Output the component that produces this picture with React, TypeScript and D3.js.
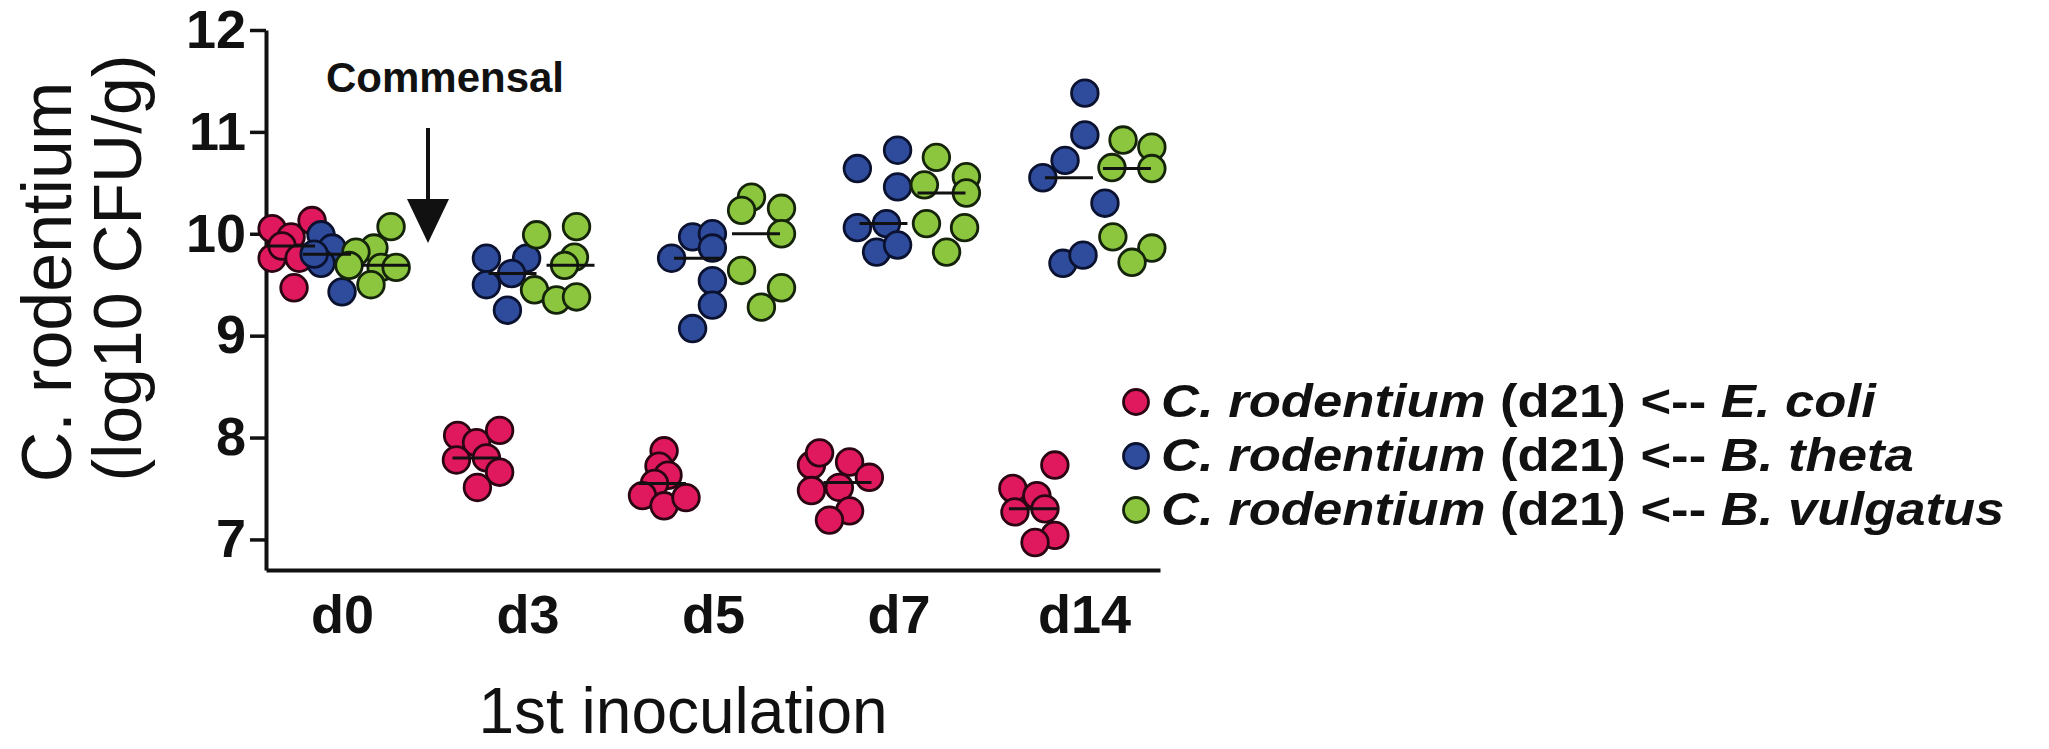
import React, { useEffect, useRef } from "react";
import * as d3 from "d3";

const categories = ["d0", "d3", "d5", "d7", "d14"];
const groups = ["E. coli", "B. theta", "B. vulgatus"];
const yTicks = [7, 8, 9, 10, 11, 12];

// C. rodentium log10 CFU/g per mouse, one row per category (d0..d14)
const ecoliValues = [
  [10.05, 9.97, 10.13, 9.76, 9.88, 9.76, 9.47],
  [8.02, 7.95, 8.07, 7.78, 7.8, 7.66, 7.51],
  [7.87, 7.72, 7.63, 7.55, 7.43, 7.33, 7.41],
  [7.73, 7.85, 7.76, 7.61, 7.48, 7.51, 7.28, 7.19],
  [7.73, 7.5, 7.43, 7.27, 7.3, 7.04, 6.97],
];
const ecoliJitter = [
  [-0.63, 0, 0.7, -0.63, -0.3, 0.27, 0.1],
  [-0.63, 0, 0.77, -0.67, 0.33, 0.77, 0.03],
  [0.07, -0.1, 0.2, -0.25, -0.65, 0.07, 0.8],
  [-1.2, -0.93, 0.07, 0.73, -1.2, -0.27, 0.07, -0.6],
  [0.73, -0.67, 0.13, -0.6, 0.4, 0.73, 0.07],
];

const thetaValues = [
  [9.99, 9.86, 9.71, 9.43, 9.8],
  [9.76, 9.5, 9.76, 9.25, 9.61],
  [9.97, 10.0, 9.76, 9.86, 9.54, 9.3, 9.07],
  [10.64, 10.82, 10.46, 10.06, 10.1, 9.82, 9.89],
  [11.38, 10.97, 10.72, 10.55, 10.3, 9.71, 9.79],
];
const thetaJitter = [
  [-0.2, 0.17, -0.2, 0.5, -0.43],
  [-0.87, -0.87, 0.47, -0.17, -0.03],
  [-0.18, 0.48, -0.88, 0.48, 0.48, 0.48, -0.18],
  [-0.87, 0.47, 0.47, -0.87, 0.1, -0.23, 0.47],
  [0.53, 0.53, -0.13, -0.87, 1.2, -0.2, 0.47],
];

const vulgatusValues = [
  [10.07, 9.86, 9.82, 9.69, 9.67, 9.67, 9.5],
  [9.99, 10.07, 9.77, 9.69, 9.45, 9.35, 9.38],
  [10.36, 10.23, 10.25, 10.0, 9.64, 9.47, 9.28],
  [10.75, 10.48, 10.56, 10.4, 10.1, 10.06, 9.82],
  [10.92, 10.85, 10.65, 10.64, 9.97, 9.86, 9.72],
];
const vulgatusJitter = [
  [0.2, -0.37, -0.97, -1.2, -0.13, 0.37, -0.47],
  [-1.13, 0.2, 0.13, -0.2, -1.2, -0.47, 0.2],
  [-0.15, -0.48, 0.85, 0.85, -0.48, 0.85, 0.18],
  [-0.17, -0.57, 0.83, 0.83, -0.5, 0.77, 0.17],
  [-0.13, 0.83, -0.5, 0.83, -0.47, 0.83, 0.17],
];

const seriesValues = [ecoliValues, thetaValues, vulgatusValues];
const seriesJitter = [ecoliJitter, thetaJitter, vulgatusJitter];

const fills = ["#e0195f", "#2f4b9c", "#8cc63f"];
const strokes = ["#2a0512", "#0b1230", "#14230a"];
const FONT = "'Liberation Sans', Arial, Helvetica, sans-serif";

export default function App() {
  const ref = useRef<SVGSVGElement>(null);

  useEffect(() => {
    const svg = d3.select(ref.current);
    svg.selectAll("*").remove();

    const x = d3.scalePoint().domain(categories).range([266, 1160]).padding(0.41);
    const y = d3.scaleLinear().domain([6.7, 12]).range([570, 30]);
    const groupOffset = d3.scaleOrdinal<string, number>().domain(groups).range([-51, -15, 43]);
    const jitter = d3.scaleLinear().domain([-1, 1]).range([-30, 30]);

    // y axis
    const yAxis = svg.append("g")
      .attr("transform", "translate(266,0)")
      .call(d3.axisLeft(y).tickValues(yTicks).tickFormat(d3.format("d")).tickSize(16).tickSizeOuter(0).tickPadding(4));
    yAxis.select(".domain").attr("stroke", "#111").attr("stroke-width", 4);
    yAxis.selectAll(".tick line").attr("stroke", "#111").attr("stroke-width", 3.5);
    yAxis.selectAll(".tick text")
      .attr("fill", "#111")
      .style("font-family", FONT)
      .style("font-weight", "bold")
      .style("font-size", "54px");

    // x axis
    const xAxis = svg.append("g")
      .attr("transform", "translate(0,570)")
      .call(d3.axisBottom(x).tickSize(0).tickSizeOuter(0).tickPadding(25));
    xAxis.select(".domain").attr("stroke", "#111").attr("stroke-width", 4);
    xAxis.selectAll(".tick text")
      .attr("fill", "#111")
      .style("font-family", FONT)
      .style("font-weight", "bold")
      .style("font-size", "54px");

    // points
    const points: { g: number; c: string; v: number; j: number }[] = [];
    seriesValues.forEach((rows, g) => {
      rows.forEach((vals, ci) => {
        vals.forEach((v, k) => points.push({ g, c: categories[ci], v, j: seriesJitter[g][ci][k] }));
      });
    });
    const cx = (d: { g: number; c: string; j: number }) =>
      (x(d.c) as number) + groupOffset(groups[d.g]) + jitter(d.j);

    svg.append("g").selectAll("circle")
      .data(points)
      .join("circle")
      .attr("cx", cx)
      .attr("cy", d => y(d.v))
      .attr("r", 13.3)
      .attr("fill", d => fills[d.g])
      .attr("stroke", d => strokes[d.g])
      .attr("stroke-width", 2.8);

    // median lines
    const medians: { g: number; c: string; m: number }[] = [];
    seriesValues.forEach((rows, g) => {
      rows.forEach((vals, ci) => medians.push({ g, c: categories[ci], m: d3.median(vals) as number }));
    });
    svg.append("g").selectAll("line")
      .data(medians)
      .join("line")
      .attr("x1", d => (x(d.c) as number) + groupOffset(groups[d.g]) - 24)
      .attr("x2", d => (x(d.c) as number) + groupOffset(groups[d.g]) + 24)
      .attr("y1", d => y(d.m))
      .attr("y2", d => y(d.m))
      .attr("stroke", "#111")
      .attr("stroke-width", 3);

    // commensal arrow
    svg.append("text")
      .attr("x", 445).attr("y", 92)
      .attr("text-anchor", "middle")
      .style("font-family", FONT).style("font-weight", "bold").style("font-size", "42px")
      .attr("fill", "#111")
      .text("Commensal");
    svg.append("line")
      .attr("x1", 428).attr("x2", 428).attr("y1", 128).attr("y2", 205)
      .attr("stroke", "#111").attr("stroke-width", 4);
    svg.append("path")
      .attr("d", "M407,199L449,199L428,243Z")
      .attr("fill", "#111");

    // axis titles
    svg.append("text")
      .attr("transform", "translate(71,282) rotate(-90)")
      .attr("text-anchor", "middle")
      .style("font-family", FONT).style("font-size", "70px")
      .attr("fill", "#111")
      .text("C. rodentium");
    svg.append("text")
      .attr("transform", "translate(141,268) rotate(-90)")
      .attr("text-anchor", "middle")
      .style("font-family", FONT).style("font-size", "68px")
      .attr("fill", "#111")
      .text("(log10 CFU/g)");
    svg.append("text")
      .attr("x", 683).attr("y", 733)
      .attr("text-anchor", "middle")
      .style("font-family", FONT).style("font-size", "64px")
      .attr("fill", "#111")
      .text("1st inoculation");

    // legend
    const legend = svg.append("g").selectAll("g")
      .data(groups)
      .join("g")
      .attr("transform", (d, i) => `translate(0,${i * 54})`);
    legend.append("circle")
      .attr("cx", 1136).attr("cy", 402).attr("r", 12.5)
      .attr("fill", (d, i) => fills[i])
      .attr("stroke", (d, i) => strokes[i])
      .attr("stroke-width", 2.8);
    const lt = legend.append("text")
      .attr("transform", "translate(1161,417) scale(1.12,1)")
      .attr("fill", "#111")
      .style("font-family", FONT).style("font-weight", "bold").style("font-size", "47px");
    lt.append("tspan").style("font-style", "italic").text("C. rodentium");
    lt.append("tspan").text(" (d21) <-- ");
    lt.append("tspan").style("font-style", "italic").text(d => d);
  }, []);

  return (
    <svg
      ref={ref}
      width={2049}
      height={749}
      style={{ position: "absolute", left: 0, top: 0, background: "#fff" }}
    />
  );
}
